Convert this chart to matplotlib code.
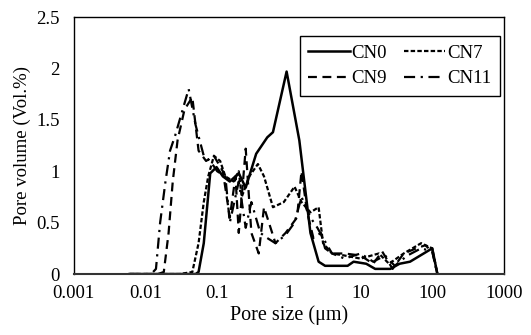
import numpy as np
import matplotlib.pyplot as plt

plt.rcParams['font.family'] = ['Liberation Serif', 'DejaVu Serif']

# pore size (um) and volume (vol%)
cn0_x = [0.006, 0.03, 0.05, 0.055, 0.065, 0.08, 0.098, 0.12, 0.15, 0.2, 0.25, 0.35,
         0.5, 0.6, 0.93, 1.4, 2.0, 2.6, 3.2, 4.0, 6.6, 8.0, 12, 16, 26, 35, 49, 100, 118]
cn0_y = [0, 0, 0, 0.02, 0.3, 0.98, 1.04, 0.95, 0.9, 0.98, 0.84, 1.17,
         1.33, 1.38, 1.97, 1.3, 0.4, 0.12, 0.08, 0.08, 0.08, 0.12, 0.1, 0.05, 0.05, 0.1, 0.12, 0.25, 0]

cn7_x = [0.006, 0.03, 0.045, 0.055, 0.065, 0.075, 0.09, 0.11, 0.13, 0.17, 0.2, 0.22,
         0.28, 0.37, 0.45, 0.6, 0.85, 1.2, 1.5, 2.0, 2.6, 3.0, 4.0, 6.0, 10, 18, 25, 40, 70, 100, 118]
cn7_y = [0, 0, 0.02, 0.3, 0.7, 0.95, 1.15, 1.1, 0.95, 0.9, 1.0, 0.75,
         0.95, 1.07, 0.95, 0.65, 0.7, 0.85, 0.7, 0.6, 0.65, 0.3, 0.2, 0.18, 0.15, 0.2, 0.1, 0.2, 0.3, 0.25, 0]

cn9_x = [0.006, 0.015, 0.018, 0.021, 0.024, 0.028, 0.035, 0.045, 0.055, 0.07, 0.09, 0.12,
         0.15, 0.18, 0.2, 0.25, 0.3, 0.38, 0.45, 0.65, 0.9, 1.3, 1.5, 1.8, 2.2, 2.8, 3.2, 4.0,
         6.0, 10, 15, 20, 28, 40, 60, 80, 100, 118]
cn9_y = [0, 0, 0.02, 0.4, 0.9, 1.3, 1.6, 1.72, 1.2, 1.1, 1.15, 1.0,
         0.55, 0.95, 0.4, 1.22, 0.4, 0.2, 0.65, 0.3, 0.4, 0.55, 1.0, 0.6, 0.35, 0.4, 0.25, 0.2,
         0.2, 0.18, 0.1, 0.22, 0.05, 0.2, 0.25, 0.28, 0.22, 0]

cn11_x = [0.006, 0.012, 0.014, 0.016, 0.019, 0.022, 0.026, 0.03, 0.04, 0.05, 0.065, 0.08,
          0.1, 0.13, 0.15, 0.2, 0.25, 0.3, 0.4, 0.5, 0.65, 0.9, 1.2, 1.5, 2.0, 2.5, 3.0, 4.0,
          6.0, 10, 15, 22, 30, 45, 70, 100, 118]
cn11_y = [0, 0, 0.05, 0.5, 0.9, 1.2, 1.35, 1.5, 1.8, 1.45, 1.15, 1.1,
          1.0, 0.95, 0.5, 0.9, 0.45, 0.7, 0.4, 0.35, 0.3, 0.38, 0.5, 0.75, 0.55, 0.45, 0.35, 0.2,
          0.15, 0.2, 0.12, 0.18, 0.08, 0.18, 0.25, 0.22, 0]

labels = ['CN0', 'CN7', 'CN9', 'CN11']

fig = plt.figure(figsize=(5.31, 3.35), dpi=100)
ax = fig.add_axes([0.139, 0.182, 0.81, 0.767])

l0, = ax.plot(cn0_x, cn0_y, color='black', lw=1.8, linestyle='-')
l7, = ax.plot(cn7_x, cn7_y, color='black', lw=1.6, linestyle=(0, (2, 1)))
l9, = ax.plot(cn9_x, cn9_y, color='black', lw=1.6, linestyle=(0, (4, 2.5)))
l11, = ax.plot(cn11_x, cn11_y, color='black', lw=1.6, linestyle=(0, (5, 2.5, 1, 2.5)))

ax.set_xscale('log')
ax.set_xlim(0.001, 1000)
ax.set_ylim(0, 2.5)
ax.set_xticks([0.001, 0.01, 0.1, 1, 10, 100, 1000])
ax.set_xticklabels(['0.001', '0.01', '0.1', '1', '10', '100', '1000'])
ax.set_yticks([0, 0.5, 1, 1.5, 2, 2.5])
ax.set_yticklabels(['0', '0.5', '1', '1.5', '2', '2.5'])
ax.minorticks_off()
ax.tick_params(length=0, labelsize=13.5)
ax.tick_params(axis='x', pad=8)
ax.tick_params(axis='y', pad=10)
for s in ax.spines.values():
    s.set_color('black')
    s.set_linewidth(1.0)
ax.spines['bottom'].set_color('#333333')
ax.spines['bottom'].set_linewidth(1.5)

ax.set_xlabel('Pore size (μm)', fontsize=14.5, labelpad=2)
ax.set_ylabel('Pore volume (Vol.%)', fontsize=13.5, labelpad=4)

# row-wise order like the reference: CN0 CN7 / CN9 CN11
leg = ax.legend([l0, l9, l7, l11], [labels[0], labels[2], labels[1], labels[3]],
                ncol=2, loc='upper right', bbox_to_anchor=(0.99, 0.925), fontsize=13.5,
                frameon=True, fancybox=False, edgecolor='black', framealpha=1,
                handlelength=2.2, columnspacing=0.9, handletextpad=0.1,
                borderpad=0.45, labelspacing=0.45, borderaxespad=0)
leg.get_frame().set_linewidth(1.0)

fig.savefig('out.png', dpi=100)
